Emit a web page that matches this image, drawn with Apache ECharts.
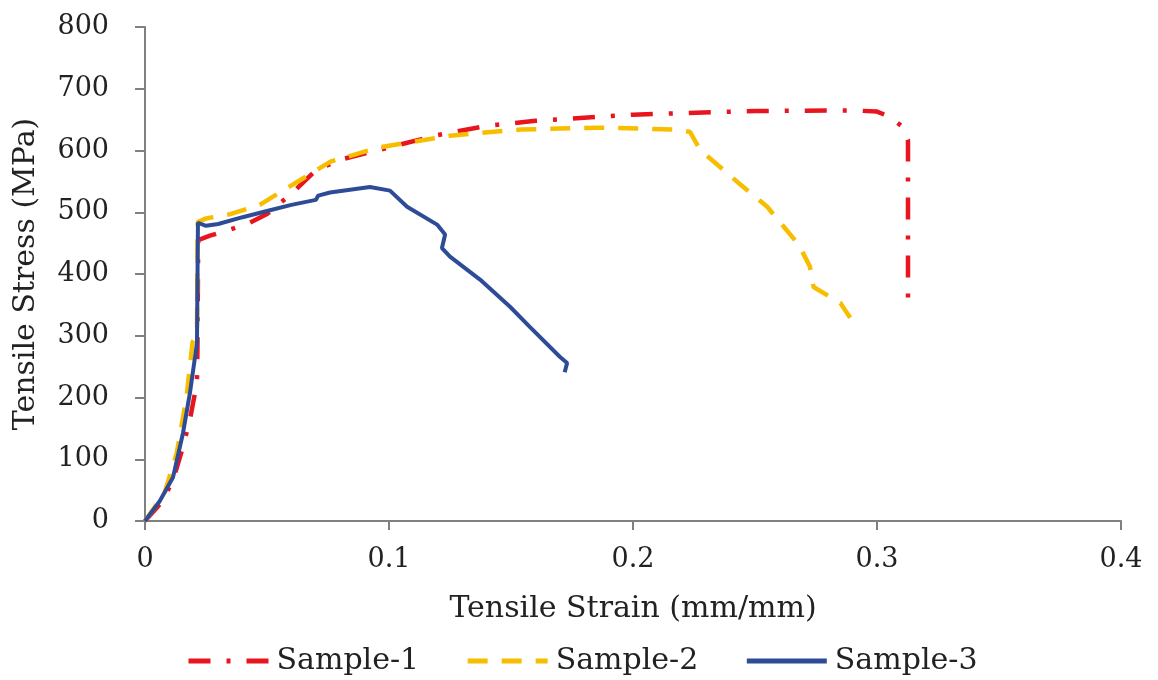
<!DOCTYPE html>
<html>
<head>
<meta charset="utf-8">
<script src="https://cdn.jsdelivr.net/npm/echarts@6/dist/echarts.min.js"></script>
<style>
  html, body { margin: 0; padding: 0; background: #fff; }
  #chart { width: 1158px; height: 680px; }
</style>
</head>
<body>
<div id="chart"></div>
<script>
// values: strain (mm/mm) and stress (MPa)
var strain1 = [0, 0.007, 0.0115, 0.0152, 0.0184, 0.0213, 0.0215, 0.0218, 0.0266, 0.035, 0.043, 0.05, 0.06, 0.07, 0.08, 0.1, 0.12, 0.14, 0.16, 0.2, 0.25, 0.29, 0.3, 0.305, 0.31, 0.3127, 0.3127];
var stress1 = [0, 31, 66, 115, 164, 224, 280, 455, 462, 472, 483, 497, 530, 568, 585, 605, 625, 640, 648, 658, 664, 665, 663, 655, 640, 617, 340];

var strain2 = [0, 0.008, 0.013, 0.017, 0.0195, 0.0213, 0.0216, 0.025, 0.035, 0.047, 0.064, 0.076, 0.096, 0.125, 0.154, 0.186, 0.218, 0.2234, 0.2275, 0.244, 0.255, 0.268, 0.2725, 0.274, 0.285, 0.289];
var stress2 = [0, 45, 110, 200, 290, 300, 484, 490, 497, 512, 553, 582, 605, 624, 634, 637, 634, 630, 601, 545, 509, 447, 412, 379, 353, 329];

var strain3 = [0, 0.006, 0.0115, 0.0156, 0.0184, 0.0213, 0.0217, 0.025, 0.03, 0.04, 0.05, 0.06, 0.07, 0.071, 0.0758, 0.0922, 0.1004, 0.1074, 0.1197, 0.123, 0.1217, 0.125, 0.1373, 0.1496, 0.1578, 0.17, 0.173, 0.172];
var stress3 = [0, 32, 71, 143, 207, 288, 483, 478, 481, 492, 502, 512, 520, 527, 532, 541, 535, 509, 480, 464, 442, 428, 391, 347, 314, 266, 256, 241];

var xTicks = [0, 0.1, 0.2, 0.3, 0.4];
var yTicks = [0, 100, 200, 300, 400, 500, 600, 700, 800];

var names = ['Sample-1', 'Sample-2', 'Sample-3'];
var colors = ['#E8141E', '#F7BE00', '#2D4B97'];

function pairs(xs, ys) {
	return xs.map(function (x, i) { return [x, ys[i]]; });
}

var font = 'DejaVu Serif';
var axisGray = '#808080';
var chart = echarts.init(document.getElementById('chart'));
chart.setOption({
	animation: false,
	grid: { left: 145, right: 37, top: 27, bottom: 159 },
	legend: {
		bottom: -1,
		left: 181,
		itemWidth: 80,
		itemHeight: 14,
		itemGap: 46,
		itemStyle: { opacity: 0 },
		lineStyle: { width: 5 },
		textStyle: { fontFamily: font, fontSize: 30, color: '#222', padding: [0, 0, 0, 3] },
		data: names
	},
	xAxis: {
		type: 'value',
		min: xTicks[0],
		max: xTicks[xTicks.length - 1],
		interval: 0.1,
		name: 'Tensile Strain (mm/mm)',
		nameLocation: 'middle',
		nameGap: 73,
		nameTextStyle: { fontFamily: font, fontSize: 30, color: '#222' },
		axisLine: { lineStyle: { color: axisGray, width: 2 } },
		axisTick: { show: true, length: 9, lineStyle: { color: axisGray, width: 2 } },
		axisLabel: { fontFamily: font, fontSize: 27, color: '#222', margin: 25 },
		splitLine: { show: false }
	},
	yAxis: {
		type: 'value',
		min: yTicks[0],
		max: yTicks[yTicks.length - 1],
		interval: 100,
		name: 'Tensile Stress (MPa)',
		nameLocation: 'middle',
		nameGap: 104,
		nameTextStyle: { fontFamily: font, fontSize: 30, color: '#222' },
		axisLine: { show: true, lineStyle: { color: axisGray, width: 2 } },
		axisTick: { show: true, length: 10, lineStyle: { color: axisGray, width: 2 } },
		axisLabel: { fontFamily: font, fontSize: 27, color: '#222', margin: 36 },
		splitLine: { show: false }
	},
	series: [
		{
			name: names[0], type: 'line', showSymbol: false, symbol: 'none',
			data: pairs(strain1, stress1),
			itemStyle: { color: colors[0] },
			lineStyle: { color: colors[0], width: 4.5, type: [22, 16, 4, 16] },
			z: 2
		},
		{
			name: names[1], type: 'line', showSymbol: false, symbol: 'none',
			data: pairs(strain2, stress2),
			itemStyle: { color: colors[1] },
			lineStyle: { color: colors[1], width: 4.5, type: [20, 14] },
			z: 3
		},
		{
			name: names[2], type: 'line', showSymbol: false, symbol: 'none',
			data: pairs(strain3, stress3),
			itemStyle: { color: colors[2] },
			lineStyle: { color: colors[2], width: 4 },
			z: 4
		}
	]
});
</script>
</body>
</html>
